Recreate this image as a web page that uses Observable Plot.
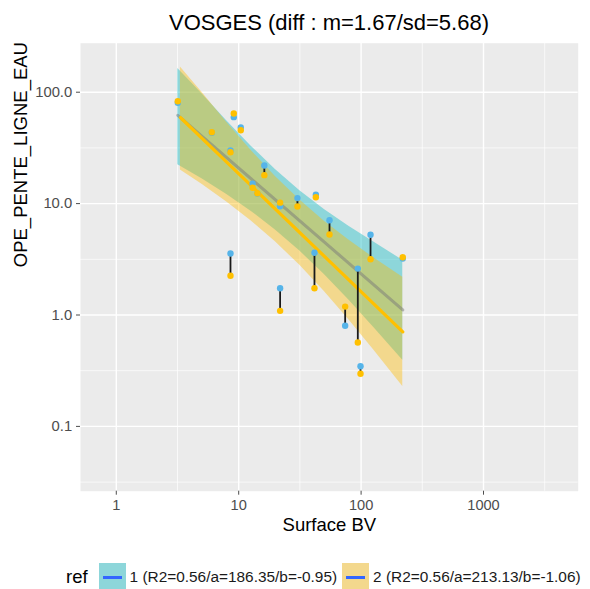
<!DOCTYPE html>
<html>
<head>
<meta charset="utf-8">
<script src="https://cdn.jsdelivr.net/npm/d3@7"></script>
<script src="https://cdn.jsdelivr.net/npm/@observablehq/plot@0.6"></script>
<style>
  html, body { margin: 0; padding: 0; background: #ffffff; }
  #wrap { position: relative; width: 590px; height: 589px; overflow: hidden; font-family: "Liberation Sans", Arial, sans-serif; }
  #chart { position: absolute; left: 0; top: 0; }
  #title { position: absolute; left: 80px; width: 498px; top: 9px; text-align: center; font-size: 22px; line-height: 28px; color: #000; white-space: nowrap; }
  #legend { position: absolute; left: 66px; top: 563px; height: 28px; display: flex; align-items: center; white-space: nowrap; }
  #legend .ttl { font-size: 18.5px; color: #000; margin-right: 11px; }
  #legend .key { width: 27px; height: 28px; position: relative; margin-right: 4px; flex: none; }
  #legend .key::after { content: ""; position: absolute; left: 4px; right: 4px; top: 12.5px; height: 3px; background: #3366FF; }
  #legend .lab { font-size: 15.4px; color: #1a1a1a; margin-right: 5px; }
</style>
</head>
<body>
<div id="wrap">
  <div id="chart"></div>
  <div id="title"></div>
  <div id="legend"></div>
</div>
<script>
// ---- data ----
const titleText = "VOSGES (diff : m=1.67/sd=5.68)";
const xTitle = "Surface BV";
const yTitle = "OPE_PENTE_LIGNE_EAU";
const legendTitle = "ref";
const seriesLabels = ["1 (R2=0.56/a=186.35/b=-0.95)", "2 (R2=0.56/a=213.13/b=-1.06)"];
const seriesColors = ["#56B4E9", "#FFC000"];
const bandColors = ["#00B6C0", "#FFBB00"];

// paired observations: x = surface, ref1 (blue), ref2 (yellow)
const surface = [3.18, 6.03, 8.57, 9.12, 10.4, 8.57, 13.0, 14.2, 16.2, 21.8, 21.8, 30.2, 42.7, 41.6, 55.2, 74.1, 94.0, 98.9, 119.4, 219];
const ref1    = [80.3, 43.2, 30.0, 59.7, 48.2, 3.56, 15.1, 12.3, 22.0, 9.48, 1.74, 11.2, 12.0, 3.62, 7.10, 0.80, 2.61, 0.347, 5.25, 3.21];
const ref2    = [83.0, 43.7, 28.9, 64.4, 45.6, 2.25, 13.9, 12.4, 18.0, 10.2, 1.09, 9.42, 11.4, 1.74, 5.28, 1.19, 0.566, 0.297, 3.17, 3.30];

// fitted lines (endpoints)
const fit1X = [3.18, 219];
const fit1Y = [62.0, 1.11];
const fit2X = [3.34, 219];
const fit2Y = [59.3, 0.705];

// confidence bands
const band1X  = [3.18, 5.01, 7.94, 12.6, 19.95, 31.6, 50.1, 79.4, 125.9, 219];
const band1Lo = [22.3, 16.7, 12.13, 8.56, 5.81, 3.75, 2.31, 1.361, 0.782, 0.393];
const band1Hi = [163, 97.1, 55.8, 32.96, 20.25, 13.07, 8.87, 6.26, 4.54, 3.10];
const band2X  = [3.34, 5.01, 7.94, 12.6, 19.95, 31.6, 50.1, 79.4, 125.9, 219];
const band2Lo = [20.0, 14.93, 10.40, 7.03, 4.55, 2.79, 1.624, 0.906, 0.49, 0.2285];
const band2Hi = [168, 99.8, 54.0, 30.1, 17.52, 10.75, 6.96, 4.71, 3.28, 2.18];

// axes
const xTicks = [1, 10, 100, 1000];
const xTickLabels = ["1", "10", "100", "1000"];
const xMinor = [3.162, 31.62, 316.2, 3162];
const yTicks = [0.1, 1, 10, 100];
const yTickLabels = ["0.1", "1.0", "10.0", "100.0"];
const yMinor = [0.03162, 0.3162, 3.162, 31.62];

// ---- build tables ----
const pairs = surface.map((x, i) => ({x, y1: ref1[i], y2: ref2[i]}));
const band1 = band1X.map((x, i) => ({x, lo: band1Lo[i], hi: band1Hi[i]}));
const band2 = band2X.map((x, i) => ({x, lo: band2Lo[i], hi: band2Hi[i]}));
const fit1 = fit1X.map((x, i) => ({x, y: fit1Y[i]}));
const fit2 = fit2X.map((x, i) => ({x, y: fit2Y[i]}));

const chart = Plot.plot({
  width: 590,
  height: 545,
  marginLeft: 80,
  marginRight: 12.3,
  marginTop: 42.7,
  marginBottom: 54.3,
  style: {fontFamily: "Liberation Sans, Arial, sans-serif", color: "#4D4D4D", background: "transparent", overflow: "visible"},
  x: {type: "log", domain: [0.5101, 5938]},
  y: {type: "log", domain: [0.02620, 275.4]},
  marks: [
    Plot.frame({fill: "#EBEBEB", stroke: null}),
    Plot.ruleX(xMinor, {stroke: "#ffffff", strokeWidth: 0.7}),
    Plot.ruleY(yMinor, {stroke: "#ffffff", strokeWidth: 0.7}),
    Plot.ruleX(xTicks, {stroke: "#ffffff", strokeWidth: 1.4}),
    Plot.ruleY(yTicks, {stroke: "#ffffff", strokeWidth: 1.4}),
    Plot.areaY(band1, {x: "x", y1: "lo", y2: "hi", fill: bandColors[0], fillOpacity: 0.4}),
    Plot.areaY(band2, {x: "x", y1: "lo", y2: "hi", fill: bandColors[1], fillOpacity: 0.4}),
    Plot.line(fit1, {x: "x", y: "y", stroke: "#7A7A7A", strokeOpacity: 0.5, strokeWidth: 3}),
    Plot.line(fit2, {x: "x", y: "y", stroke: seriesColors[1], strokeWidth: 3.2}),
    Plot.link(pairs, {x1: "x", y1: "y1", x2: "x", y2: "y2", stroke: "#1a1a1a", strokeWidth: 1.8}),
    Plot.dot(pairs, {x: "x", y: "y1", r: 3.2, fill: seriesColors[0], stroke: null}),
    Plot.dot(pairs, {x: "x", y: "y2", r: 3.2, fill: seriesColors[1], stroke: null}),
    Plot.axisX({ticks: xTicks, tickFormat: d => xTickLabels[xTicks.indexOf(d)], tickSize: 4, tickPadding: 4.5, fontSize: 14.6, label: null}),
    Plot.axisY({ticks: yTicks, tickFormat: d => yTickLabels[yTicks.indexOf(d)], tickSize: 4, tickPadding: 4.3, fontSize: 14.8, label: null}),
    Plot.text([xTitle], {text: d => d, frameAnchor: "bottom", lineAnchor: "middle", dy: 33.5, fontSize: 18.5, fill: "#000000"}),
    Plot.text([yTitle], {text: d => d, frameAnchor: "left", lineAnchor: "middle", dx: -59.5, rotate: -90, fontSize: 18.5, fill: "#000000"})
  ]
});
document.getElementById("chart").appendChild(chart);
document.getElementById("title").textContent = titleText;

// legend
const legend = document.getElementById("legend");
const lt = document.createElement("span");
lt.className = "ttl";
lt.textContent = legendTitle;
legend.appendChild(lt);
const keyFills = ["#8DD6DA", "#F3D88D"];
seriesLabels.forEach((s, i) => {
  const k = document.createElement("div");
  k.className = "key";
  k.style.background = keyFills[i];
  legend.appendChild(k);
  const l = document.createElement("span");
  l.className = "lab";
  l.textContent = s;
  legend.appendChild(l);
});
</script>
</body>
</html>
